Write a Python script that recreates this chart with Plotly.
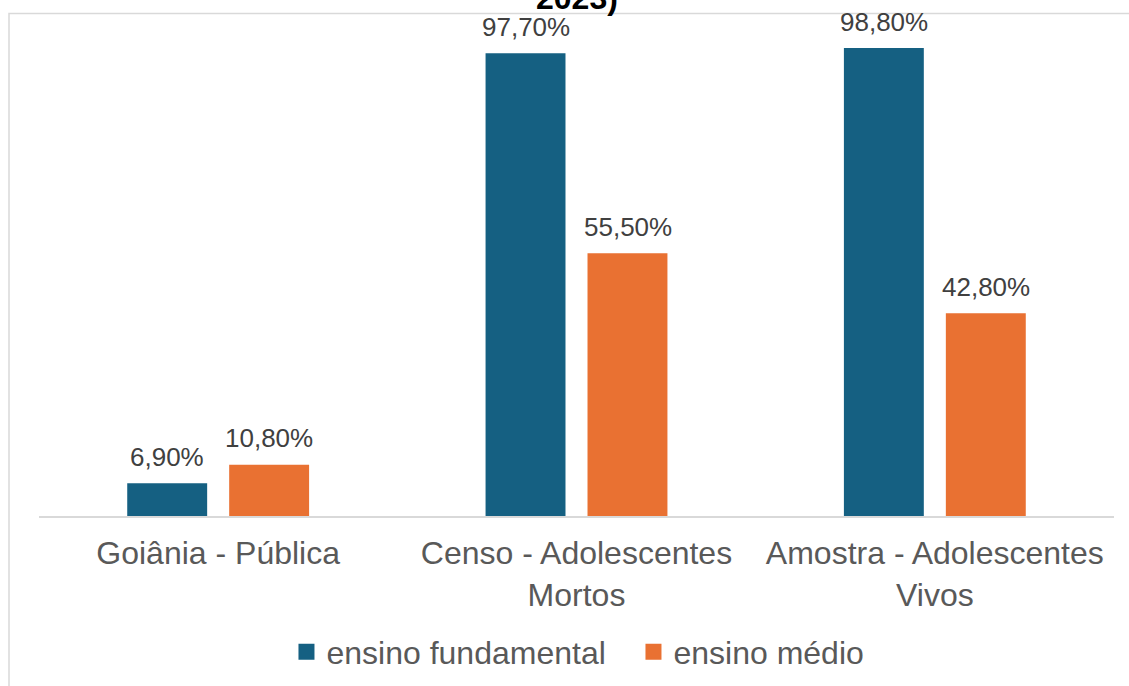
import plotly.graph_objects as go

categories = ["Goiânia - Pública", "Censo - Adolescentes<br>Mortos", "Amostra - Adolescentes<br>Vivos"]
series_names = ["ensino fundamental", "ensino médio"]
fundamental = [6.9, 97.7, 98.8]
medio = [10.8, 55.5, 42.8]
title_tail = "2023)"

colors = ["#156082", "#E97132"]
FONT = "Arial, 'Liberation Sans', sans-serif"


def fmt(v):
    return f"{v:.2f}".replace(".", ",") + "%"


fig = go.Figure()
for name, vals, col in zip(series_names, [fundamental, medio], colors):
    fig.add_trace(go.Bar(
        x=categories, y=vals, name=name, marker_color=col,
        marker_line_width=0, showlegend=False, hoverinfo="skip",
    ))
# legend entries
for name, col in zip(series_names, colors):
    fig.add_trace(go.Scatter(
        x=[None], y=[None], mode="markers", name=name,
        marker=dict(symbol="square", size=20, color=col),
    ))

annotations = []
for vals, shift in zip([fundamental, medio], [-51, 51]):
    for c, v in zip(categories, vals):
        annotations.append(dict(
            x=c, y=v, xref="x", yref="y", text=fmt(v), showarrow=False,
            xanchor="center", yanchor="bottom", xshift=shift, yshift=9.5,
            font=dict(family=FONT, size=26, color="#404040"),
        ))
annotations.append(dict(
    x=0.5, y=1, xref="paper", yref="paper", text="<b>" + title_tail + "</b>",
    showarrow=False, xanchor="center", yanchor="bottom", yshift=-4,
    font=dict(family=FONT, size=32, color="#000000"),
))

fig.update_layout(
    width=1129, height=686,
    margin=dict(l=39, r=15, t=14, b=170, autoexpand=False),
    paper_bgcolor="white", plot_bgcolor="white",
    barmode="group", bargap=0.431, bargroupgap=0.216,
    font=dict(family=FONT, size=32, color="#595959"),
    showlegend=True,
    legend=dict(orientation="h", x=0.553, xanchor="center", y=-0.271, yanchor="middle",
                font=dict(family=FONT, size=32, color="#595959"), itemwidth=30,
                entrywidth=302, entrywidthmode="pixels",
                bgcolor="rgba(0,0,0,0)"),
    annotations=annotations,
    shapes=[dict(type="rect", xref="paper", yref="paper",
                 x0=(9 - 39) / 1075, x1=1.2, y0=-0.6, y1=(516 - 13.5) / 502,
                 line=dict(color="#D9D9D9", width=1.5), fillcolor="rgba(0,0,0,0)", layer="below")],
    hovermode=False,
)
fig.update_xaxes(showline=True, linecolor="#D9D9D9", linewidth=1.5, ticks="",
                 showgrid=False, zeroline=False, ticklabelstandoff=8, automargin=False,
                 tickfont=dict(family=FONT, size=32, color="#595959"))
fig.update_yaxes(visible=False, range=[0, 106.0], showgrid=False, zeroline=False, automargin=False)

fig.write_html("out.html", config={"displayModeBar": False},
               post_script="document.body.style.margin='0';")
